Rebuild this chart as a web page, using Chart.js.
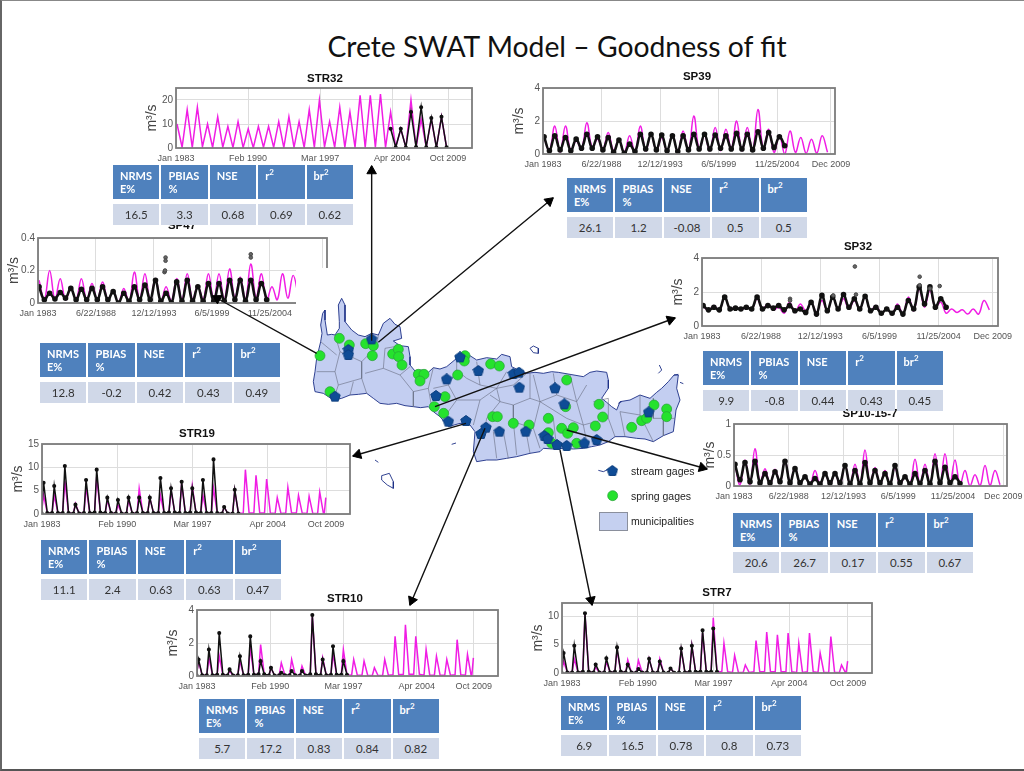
<!DOCTYPE html>
<html>
<head>
<meta charset="utf-8">
<title>Crete SWAT Model - Goodness of fit</title>
<script src="https://cdn.jsdelivr.net/npm/chart.js@4"></script>
<style>
    html, body { margin: 0; padding: 0; background: #fff; }
    #page { position: relative; width: 1024px; height: 771px; overflow: hidden; background: #fff; }
    #page canvas { position: absolute; }
    #frame { position: absolute; left: 0; top: 0; width: 1022px; height: 768px; border-left: 2px solid #666; border-top: 1px solid #888; border-bottom: 2px solid #555; z-index: 6; }
    #heading { position: absolute; left: 257px; width: 600px; top: 29px; text-align: center; font: 28.3px Lato, sans-serif; color: #111; }
    .plot-title { position: absolute; width: 120px; margin-left: -60px; text-align: center; font: bold 11.5px "Liberation Sans", sans-serif; color: #111; z-index: 1; line-height: 14px; }
    .stats { position: absolute; display: grid; grid-template-columns: repeat(5, 46.4px); grid-template-rows: 34px 21px; gap: 5px 2px; z-index: 3; font-family: Lato, sans-serif; }
    .stats div { box-sizing: border-box; background: #d0d8e8; color: #333; font-size: 11.5px; text-align: center; line-height: 21px; }
    .stats div.head { background: #4f81bd; color: #fff; font-weight: bold; font-size: 11px; text-align: left; line-height: 13px; padding: 4px 0 0 7px; }
    .stats sup { font-size: 8px; line-height: 0; }
    #patch { position: absolute; left: 296px; top: 268px; width: 40px; height: 50px; background: #fff; z-index: 2; }
    .legend-text { position: absolute; left: 631px; font: 10.5px "Liberation Sans", sans-serif; color: #222; z-index: 5; }
    #swatch { position: absolute; left: 599px; top: 512px; width: 27px; height: 17px; background: #c5d0f0; border: 1px solid #8a8f9c; z-index: 5; }
</style>
</head>
<body>
<div id="page">
    <div id="frame"></div>
    <div id="heading">Crete SWAT Model – Goodness of fit</div>
    <div id="patch"></div>
    <div class="legend-text" style="top:465px">stream gages</div>
    <div class="legend-text" style="top:490px">spring gages</div>
    <div class="legend-text" style="top:515px">municipalities</div>
    <div id="swatch"></div>
</div>
<script>
const firstYear = 1983;
const statHeaders = ['NRMS<br>E%', 'PBIAS<br>%', 'NSE', 'r<sup>2</sup>', 'br<sup>2</sup>'];

// tick positions in decimal years
const streamTickYears = [1983, 1990.08, 1997.17, 2004.25, 2009.75];
const streamTickLabels = ['Jan 1983', 'Feb 1990', 'Mar 1997', 'Apr 2004', 'Oct 2009'];
const springTickYears = [1983, 1988.47, 1993.95, 1999.43, 2004.9, 2009.92];
const springTickLabels = ['Jan 1983', '6/22/1988', '12/12/1993', '6/5/1999', '11/25/2004', 'Dec 2009'];
const sp47TickLabels = ['Jan 1983', '6/22/1988', '12/12/1993', '6/5/1999', '11/25/2004', ''];

// STR32
const str32SimPeak = [10, 16, 17, 10, 13, 9, 11, 8, 9, 9, 11, 13, 11, 16, 20, 11, 17, 15, 22, 22, 22.5, 15, 8, 20, 12, 12, 13];
const str32SimLow = [0.3, 0.2, 0.5, 0.2, 0.3, 0.2, 0.2, 0.1, 0.3, 0.3, 0.2, 0.3, 0.2, 0.3, 0.5, 0.3, 0.3, 0.3, 0.2, 0.3, 0.3, 0.3, 0.2, 0.4, 0.3, 0.2, 0.2];
const str32ObsPeak = [8, 8, 15, 17, 12.5, 13];
const str32ObsLow = [0.3, 0.2, 0.4, 0.3, 0.2, 0.3];
const str32Stats = [16.5, 3.3, 0.68, 0.69, 0.62];

// SP39
const sp39SimPeak = [1.0, 1.7, 1.7, 0.8, 1.9, 0.9, 1.3, 0.9, 1.1, 1.7, 1.2, 1.0, 1.2, 1.4, 2.3, 1.1, 1.6, 1.5, 2.0, 1.6, 2.7, 1.5, 1.1, 1.4, 1.0, 0.9, 1.1];
const sp39SimLow = [0.2, 0.1, 0.2, 0.3, 0.4, 0.3, 0.2, 0.1, 0.1, 0.2, 0.2, 0.2, 0.1, 0.2, 0.3, 0.2, 0.2, 0.3, 0.2, 0.2, 0.3, 0.1, 0.0, 0.1, 0.05, 0.05, 0.1];
const sp39ObsPeak = [1.05, 1.1, 1.0, 0.9, 1.2, 1.05, 1.0, 0.85, 0.6, 1.2, 1.2, 1.15, 1.1, 1.1, 1.2, 1.2, 1.15, 1.1, 1.25, 1.2, 1.35, 1.3, 1.05];
const sp39ObsLow = [0.2, 0.25, 0.2, 0.35, 0.35, 0.25, 0.1, 0.05, 0.15, 0.3, 0.25, 0.2, 0.15, 0.25, 0.3, 0.3, 0.35, 0.3, 0.3, 0.25, 0.35, 0.4, 0.5];
const sp39Stats = [26.1, 1.2, -0.08, 0.5, 0.5];

// SP47
const sp47SimPeak = [0.14, 0.2, 0.15, 0.09, 0.15, 0.12, 0.13, 0.07, 0.09, 0.19, 0.18, 0.15, 0.1, 0.15, 0.18, 0.11, 0.18, 0.18, 0.21, 0.16, 0.24, 0.18, 0.1, 0.18, 0.17];
const sp47SimLow = [0.02, 0.02, 0.02, 0.02, 0.02, 0.02, 0.02, 0.0, 0.0, 0.02, 0.02, 0.01, 0.01, 0.02, 0.02, 0.02, 0.02, 0.02, 0.03, 0.02, 0.03, 0.02, 0.02, 0.03, 0.04];
const sp47ObsPeak = [0.1, 0.06, 0.065, 0.09, 0.085, 0.09, 0.1, 0.07, 0.06, 0.1, 0.11, 0.14, 0.06, 0.13, 0.14, 0.1, 0.12, 0.12, 0.14, 0.14, 0.14, 0.12];
const sp47ObsLow = [0.02, 0.025, 0.03, 0.02, 0.02, 0.02, 0.02, 0.0, 0.01, 0.02, 0.02, 0.01, 0.0, 0.01, 0.01, 0.01, 0.01, 0.01, 0.02, 0.01, 0.02, 0.02];
const sp47Outliers = [[1995.05, 0.28], [1995.05, 0.26], [1994.95, 0.19], [1995.0, 0.2], [2003.1, 0.3], [2003.1, 0.28]];
const sp47Stats = [12.8, -0.2, 0.42, 0.43, 0.49];

// SP32
const sp32SimPeak = [1.2, 1.2, 1.7, 1.1, 1.1, 1.6, 1.3, 1.1, 1.4, 1.3, 1.4, 1.5, 1.7, 1.6, 1.5, 1.7, 1.2, 1.0, 1.3, 1.7, 2.2, 2.1, 1.4, 1.0, 0.95, 1.0, 1.5];
const sp32SimLow = [0.9, 0.9, 1.0, 0.95, 1.0, 1.0, 0.95, 0.75, 0.8, 0.9, 0.8, 0.9, 1.0, 1.0, 1.0, 0.9, 0.75, 0.7, 0.7, 0.9, 1.1, 1.1, 0.75, 0.8, 0.7, 0.7, 0.95];
const sp32ObsPeak = [1.2, 1.1, 1.7, 1.05, 1.1, 1.7, 1.2, 1.2, 1.2, 1.0, 1.4, 1.8, 1.7, 1.85, 1.6, 1.75, 1.1, 1.0, 1.1, 1.5, 2.3, 2.3, 1.6];
const sp32ObsLow = [0.95, 0.95, 1.0, 1.0, 1.0, 1.0, 1.05, 0.95, 0.9, 0.8, 0.7, 0.9, 1.0, 1.1, 1.0, 0.9, 0.75, 0.75, 0.7, 1.0, 1.3, 1.1, 1.1];
const sp32Outliers = [[1997.15, 3.5], [2003.15, 2.9], [2003.15, 2.4], [2005, 2.35], [2004.1, 2.2], [1991.15, 1.6], [1991.15, 1.5], [1995.15, 1.8], [1997.25, 1.85]];
const sp32Stats = [9.9, -0.8, 0.44, 0.43, 0.45];

// SP10-15-7
const sp10SimPeak = [0.35, 0.42, 0.6, 0.28, 0.27, 0.42, 0.3, 0.15, 0.25, 0.2, 0.2, 0.35, 0.35, 0.58, 0.3, 0.25, 0.3, 0.15, 0.43, 0.35, 0.52, 0.52, 0.42, 0.25, 0.18, 0.33, 0.25];
const sp10SimLow = [0.02, 0.03, 0.05, 0.02, 0.05, 0.06, 0.04, 0.02, 0.03, 0.03, 0.02, 0.02, 0.02, 0.03, 0.02, 0.03, 0.02, 0.02, 0.02, 0.02, 0.03, 0.04, 0.02, 0.0, 0.0, 0.01, 0.02];
const sp10ObsPeak = [0.35, 0.38, 0.4, 0.2, 0.23, 0.4, 0.28, 0.15, 0.12, 0.2, 0.2, 0.33, 0.25, 0.38, 0.25, 0.2, 0.33, 0.15, 0.2, 0.25, 0.4, 0.3, 0.15];
const sp10ObsLow = [0.1, 0.07, 0.05, 0.05, 0.07, 0.05, 0.05, 0.03, 0.03, 0.05, 0.05, 0.03, 0.03, 0.05, 0.05, 0.03, 0.05, 0.03, 0.04, 0.03, 0.05, 0.05, 0.04];
const sp10Stats = [20.6, 26.7, 0.17, 0.55, 0.67];

// STR19
const str19SimPeak = [4, 4, 7, 2.2, 5.8, 8, 3, 2, 3, 5.5, 3.5, 4, 5, 6.5, 6, 4, 5.5, 1.5, 5, 9.5, 8.3, 7.5, 3.5, 5.7, 4, 3.8, 4.7];
const str19SimLow = [0.2, 0.2, 0.2, 0.1, 0.2, 0.3, 0.2, 0.1, 0.1, 0.2, 0.2, 0.2, 0.3, 0.2, 0.3, 0.2, 0.2, 0.1, 0.1, 0.2, 0.2, 0.2, 0.1, 0.2, 0.2, 0.1, 0.1];
const str19ObsPeak = [6.7, 6, 10.3, 2, 7.3, 9.5, 3.5, 3, 3.5, 3.5, 3.5, 7.7, 5.5, 6.9, 5.5, 7.3, 11.7, 1.5, 5.2];
const str19ObsLow = [0.2, 0.2, 0.2, 0.1, 0.2, 0.3, 0.2, 0.1, 0.1, 0.2, 0.2, 0.2, 0.3, 0.2, 0.3, 0.2, 0.2, 0.1, 0.1];
const str19Stats = [11.1, 2.4, 0.63, 0.63, 0.47];

// STR10
const str10SimPeak = [0.9, 1.1, 1.2, 0.3, 0.9, 1.7, 1.9, 0.5, 0.8, 1.0, 0.6, 3.6, 1.1, 1.3, 1.6, 1.0, 0.9, 0.5, 1.0, 2.4, 3.1, 2.4, 1.6, 1.2, 1.0, 2.2, 1.3];
const str10SimLow = [0.05, 0.05, 0.08, 0.03, 0.05, 0.08, 0.1, 0.03, 0.05, 0.05, 0.03, 0.1, 0.05, 0.08, 0.08, 0.05, 0.05, 0.03, 0.05, 0.08, 0.1, 0.1, 0.05, 0.05, 0.05, 0.08, 0.05];
const str10ObsPeak = [1, 1.6, 2.6, 0.4, 1.2, 2.4, 0.9, 0.5, 0.2, 0.3, 0.3, 3.7, 1, 1.8, 0.9];
const str10ObsLow = [0.05, 0.05, 0.08, 0.03, 0.05, 0.08, 0.1, 0.03, 0.05, 0.05, 0.03, 0.1, 0.05, 0.08, 0.08];
const str10Stats = [5.7, 17.2, 0.83, 0.84, 0.82];

// STR7
const str7SimPeak = [2, 2.5, 10.3, 1, 2, 4, 2.3, 2.2, 2.5, 2.5, 0.8, 4, 4.8, 7, 9.7, 5.2, 3.1, 1.4, 5.7, 7.2, 6.7, 7, 5.2, 7, 3.5, 6.4, 1.4];
const str7SimLow = [0.1, 0.1, 0.2, 0.1, 0.1, 0.2, 0.1, 0.1, 0.1, 0.1, 0.05, 0.1, 0.2, 0.2, 0.2, 0.2, 0.1, 0.1, 0.2, 0.2, 0.2, 0.2, 0.1, 0.2, 0.1, 0.1, 0.1];
const str7ObsPeak = [3.5, 4.8, 10.5, 1.5, 2.6, 4.5, 1.5, 0.7, 2.5, 2, 0.8, 4.3, 4.8, 7.5, 7.8];
const str7ObsLow = [0.1, 0.1, 0.2, 0.1, 0.1, 0.2, 0.1, 0.1, 0.1, 0.1, 0.05, 0.1, 0.2, 0.2, 0.2];
const str7Stats = [6.9, 16.5, 0.78, 0.8, 0.73];

// map, in map units (3 units = 1 screen pixel), pairs of x,y
const coast = [45,260, 50,220, 56,195, 62,170, 66,145, 62,120, 68,85, 75,75, 75,105, 82,150, 95,148, 105,150, 118,130, 118,110, 115,60, 125,40, 135,60, 135,110, 155,135, 175,150, 195,155, 215,145, 235,150, 250,115, 270,100, 285,118, 300,125, 305,160, 280,168, 300,182, 325,185, 330,215, 330,240, 345,258, 365,255, 385,262, 400,248, 420,252, 440,245, 470,220, 480,205, 510,212, 530,225, 560,218, 590,222, 605,208, 630,215, 635,245, 655,255, 680,265, 705,262, 730,265, 755,260, 775,262, 810,268, 850,275, 870,262, 890,258, 920,262, 925,285, 925,310, 905,340, 920,352, 935,365, 950,375, 960,350, 990,345, 1020,330, 1050,340, 1070,322, 1085,310, 1105,290, 1122,270, 1135,270, 1130,310, 1140,345, 1128,375, 1125,400, 1120,440, 1090,452, 1060,470, 1035,462, 1010,460, 975,455, 945,455, 925,470, 900,480, 875,485, 850,490, 820,492, 790,490, 760,492, 730,490, 720,500, 690,505, 650,515, 620,520, 590,525, 560,525, 530,530, 520,500, 525,440, 510,420, 480,415, 445,425, 420,395, 400,380, 385,365, 362,368, 340,365, 315,362, 290,355, 265,358, 240,355, 220,340, 200,325, 175,328, 150,330, 125,340, 100,345, 70,325, 45,320, 40,290, 45,260];
const muniLines = [
    [105,150, 120,200, 105,260, 115,300, 100,345], [62,170, 110,210], [50,260, 105,260], [115,300, 185,280, 200,325],
    [120,200, 185,230, 185,280], [185,230, 230,185, 235,150], [195,265, 250,250, 300,270, 330,245], [300,270, 340,320, 340,365],
    [340,320, 385,310, 400,248], [385,310, 395,365], [400,310, 445,300, 470,255, 470,222], [445,300, 470,345, 430,400],
    [470,345, 540,345, 590,310, 640,300], [540,345, 520,420], [590,310, 600,350, 560,400, 555,430], [600,350, 640,360, 640,410],
    [640,300, 680,265], [640,360, 690,340, 690,265], [690,340, 720,350, 770,330], [720,350, 700,430, 720,490], [770,330, 760,265],
    [770,330, 830,350, 810,268], [830,350, 850,420, 860,470], [850,420, 925,400, 925,340], [640,410, 650,510], [580,440, 590,520],
    [700,430, 640,410], [925,400, 945,455], [960,380, 975,455], [960,380, 1020,390, 1020,330], [1020,390, 1060,470], [1060,400, 1125,400],
    [1060,340, 1060,400], [530,230, 540,300, 590,310], [720,350, 800,400], [800,400, 850,420],
    [250,250, 255,190, 300,182], [540,300, 500,280, 470,255], [620,260, 590,310], [700,270, 720,350], [610,440, 625,520], [680,450, 690,505],
    [760,400, 770,490], [600,350, 570,330], [1090,400, 1090,452], [150,330, 160,290], [860,300, 830,350], [880,350, 925,340]
];
const islets = [
    [690,190, 700,183, 715,190, 715,205, 700,203, 690,190], [245,572, 268,565, 280,590, 280,610, 262,600, 245,585, 245,572], [225,525, 235,532],
    [895,556, 910,560, 925,553], [1078,240, 1085,255, 1075,265], [1140,292, 1150,296], [955,355, 965,350], [455,478, 468,474], [1122,270, 1135,268]
];
const springGages = [118,160, 148,180, 60,212, 197,176, 220,182, 217,212, 278,207, 295,193, 296,215, 306,240, 355,268, 372,268, 360,288, 90,320, 495,212, 493,228, 473,270, 572,237, 598,243, 435,335, 403,365, 431,385, 578,395, 592,395, 640,415, 687,420, 745,400, 745,443, 785,430, 803,445, 820,428, 830,475, 755,475, 800,285, 797,365, 897,358, 908,396, 886,423, 995,427, 1025,407, 1040,400, 1062,360, 1100,372, 1100,395];
const streamGages = [145,195, 145,210, 105,335, 215,163, 480,217, 535,258, 440,283, 408,333, 640,267, 657,263, 658,308, 765,310, 793,358, 445,410, 498,408, 558,428, 543,447, 598,440, 677,440, 733,453, 743,462, 771,480, 800,483, 853,475, 890,465, 1046,382];
const legendSpring = [938, 632];
const legendStream = [937, 558];
// from gage to the tip of the arrow at the plot it belongs to
const arrows = [
    [213,165, 215,-357], [235,172, 759,-261], [50,205, -261,33], [405,365, 1125,99],
    [498,415, 159,513], [800,435, 1221,552], [555,430, 330,960], [780,495, 876,960]
];

const stations = [
    { name: 'STR32', box: [176, 88, 296, 60], title: [325, 71], table: [113, 165], yMax: 25, yTicks: [0, 10, 20], xMax: 2012.1, sim: [str32SimPeak, str32SimLow], obs: [str32ObsPeak, str32ObsLow], obsFrom: 2004, stats: str32Stats, narrow: false },
    { name: 'SP39', box: [543, 88, 292, 66], title: [697, 69], table: [567, 178], yMax: 4, yTicks: [0, 2, 4], xMax: 2010.3, sim: [sp39SimPeak, sp39SimLow], obs: [sp39ObsPeak, sp39ObsLow], obsFrom: 1983, stats: sp39Stats, spring: true },
    { name: 'SP47', box: [38, 238, 289, 65], title: [182, 218], table: [40, 343], yMax: 0.4, yTicks: [0, 0.2, 0.4], xMax: 2010.3, sim: [sp47SimPeak, sp47SimLow], obs: [sp47ObsPeak, sp47ObsLow], obsFrom: 1983, outliers: sp47Outliers, stats: sp47Stats, spring: true, labels: sp47TickLabels },
    { name: 'SP32', box: [702, 258, 296, 68], title: [858, 239], table: [703, 351], yMax: 4, yTicks: [0, 2, 4], xMax: 2010.4, sim: [sp32SimPeak, sp32SimLow], obs: [sp32ObsPeak, sp32ObsLow], obsFrom: 1983, outliers: sp32Outliers, stats: sp32Stats, spring: true },
    { name: 'SP10-15-7', box: [734, 424, 273, 62], title: [870, 406], table: [733, 513], yMax: 1, yTicks: [0, 0.5, 1], xMax: 2010.3, sim: [sp10SimPeak, sp10SimLow], obs: [sp10ObsPeak, sp10ObsLow], obsFrom: 1983, stats: sp10Stats, spring: true },
    { name: 'STR19', box: [42, 444, 308, 70], title: [197, 426], table: [41, 540], yMax: 15, yTicks: [0, 5, 10, 15], xMax: 2012, sim: [str19SimPeak, str19SimLow], obs: [str19ObsPeak, str19ObsLow], obsFrom: 1983, stats: str19Stats, narrow: true, tail: 3.5 },
    { name: 'STR10', box: [197, 610, 301, 66], title: [345, 591], table: [199, 699], yMax: 4, yTicks: [0, 2, 4], xMax: 2012.1, sim: [str10SimPeak, str10SimLow], obs: [str10ObsPeak, str10ObsLow], obsFrom: 1983, stats: str10Stats, narrow: true, tail: 1.1 },
    { name: 'STR7', box: [562, 603, 310, 70], title: [717, 585], table: [561, 696], yMax: 12.3, yTicks: [0, 5, 10], xMax: 2012, sim: [str7SimPeak, str7SimLow], obs: [str7ObsPeak, str7ObsLow], obsFrom: 1983, stats: str7Stats, narrow: true, tail: 2.1 }
];

const page = document.getElementById('page');
const axisFont = '"Liberation Sans", sans-serif';

function yearSeries(peaks, lows, from, narrow) {
    const points = [];
    peaks.forEach(function (peak, i) {
        const year = from + i;
        if (narrow) {
            points.push({ x: year - 0.05, y: lows[i] });
            points.push({ x: year + 0.15, y: peak });
            points.push({ x: year + 0.5, y: lows[i] });
        } else {
            points.push({ x: year + 0.1, y: peak });
            points.push({ x: year + 0.6, y: lows[i] });
        }
    });
    return points;
}

// draws the box around the plot
const plotFrame = {
    id: 'plotFrame',
    afterDatasetsDraw(chart) {
        const a = chart.chartArea;
        const ctx = chart.ctx;
        ctx.save();
        ctx.strokeStyle = '#7c7c7c';
        ctx.lineWidth = 1.8;
        ctx.strokeRect(a.left, a.top, a.right - a.left, a.bottom - a.top);
        ctx.restore();
    }
};

function noPadding(scale) {
    scale.paddingTop = 0;
    scale.paddingBottom = 0;
    scale.paddingLeft = 0;
    scale.paddingRight = 0;
}

function addStation(st) {
    const left = 32, top = 8, right = 34, bottom = 20;
    const canvas = document.createElement('canvas');
    canvas.width = left + st.box[2] + right;
    canvas.height = top + st.box[3] + bottom;
    canvas.style.left = (st.box[0] - left) + 'px';
    canvas.style.top = (st.box[1] - top) + 'px';
    canvas.style.zIndex = 1;
    page.appendChild(canvas);

    const xTicks = st.spring ? springTickYears : streamTickYears;
    const xLabels = st.labels || (st.spring ? springTickLabels : streamTickLabels);

    const sim = yearSeries(st.sim[0], st.sim[1], firstYear, st.narrow);
    if (st.tail) {
        sim.push({ x: 2009.58, y: 0.1 });
        sim.push({ x: 2009.72, y: st.tail });
    }
    const datasets = [{
        data: yearSeries(st.obs[0], st.obs[1], st.obsFrom, st.narrow),
        borderColor: '#111',
        backgroundColor: '#111',
        borderWidth: st.spring ? 2.6 : 1.5,
        pointRadius: st.spring ? 1.5 : 1.3,
        tension: st.spring ? 0.4 : 0,
        showLine: true,
        order: 1
    }, {
        data: sim,
        borderColor: '#f01de4',
        borderWidth: 1.5,
        pointRadius: 0,
        tension: st.spring ? 0.4 : 0,
        showLine: true,
        order: 3
    }];
    if (st.outliers) {
        datasets.push({
            data: st.outliers.map(p => ({ x: p[0], y: p[1] })),
            backgroundColor: '#666',
            borderColor: '#444',
            pointRadius: 1.8,
            showLine: false,
            order: 0
        });
    }

    new Chart(canvas, {
        type: 'scatter',
        data: { datasets: datasets },
        options: {
            responsive: false,
            animation: false,
            events: [],
            layout: { autoPadding: false, padding: { top: top, right: right, left: 0, bottom: 0 } },
            plugins: { legend: { display: false }, tooltip: { enabled: false } },
            scales: {
                x: {
                    type: 'linear',
                    min: firstYear,
                    max: st.xMax,
                    afterFit(scale) { scale.height = bottom; noPadding(scale); },
                    afterBuildTicks(scale) { scale.ticks = xTicks.map(v => ({ value: v })); },
                    grid: { color: '#ddd', lineWidth: 1, drawTicks: false },
                    border: { display: false },
                    ticks: {
                        color: '#555',
                        font: { family: axisFont, size: 9 },
                        padding: 5,
                        maxRotation: 0,
                        autoSkip: false,
                        callback: v => xLabels[xTicks.indexOf(v)]
                    }
                },
                y: {
                    min: 0,
                    max: st.yMax,
                    afterFit(scale) { scale.width = left; noPadding(scale); },
                    afterBuildTicks(scale) { scale.ticks = st.yTicks.map(v => ({ value: v })); },
                    grid: { color: '#ddd', lineWidth: 1, drawTicks: false },
                    border: { display: false },
                    title: { display: true, text: 'm³/s', color: '#444', padding: 0, font: { family: axisFont, size: 14 } },
                    ticks: {
                        color: '#555',
                        font: { family: axisFont, size: 10 },
                        padding: 3,
                        autoSkip: false,
                        callback: v => v
                    }
                }
            }
        },
        plugins: [plotFrame]
    });

    const title = document.createElement('div');
    title.className = 'plot-title';
    title.textContent = st.name;
    title.style.left = st.title[0] + 'px';
    title.style.top = st.title[1] + 'px';
    page.appendChild(title);

    const table = document.createElement('div');
    table.className = 'stats';
    table.style.left = st.table[0] + 'px';
    table.style.top = st.table[1] + 'px';
    table.innerHTML = statHeaders.map(h => '<div class="head">' + h + '</div>').join('') +
        st.stats.map(v => '<div>' + v + '</div>').join('');
    page.appendChild(table);
}

stations.forEach(addStation);

function pairs(flat) {
    const out = [];
    for (let i = 0; i < flat.length; i += 2) {
        out.push({ x: flat[i], y: flat[i + 1] });
    }
    return out;
}

function joined(lines) {
    const out = [];
    lines.forEach(function (line) {
        out.push(...pairs(line));
        out.push({ x: NaN, y: NaN });
    });
    return out;
}

// pentagon marker for the stream gages
function pentagon(size, fill) {
    const c = document.createElement('canvas');
    c.width = size;
    c.height = size;
    const g = c.getContext('2d');
    const r = size / 2 - 0.5;
    g.beginPath();
    for (let k = 0; k < 5; k++) {
        const a = -Math.PI / 2 + k * 2 * Math.PI / 5;
        g.lineTo(size / 2 + r * Math.cos(a), size / 2 + r * Math.sin(a));
    }
    g.closePath();
    g.fillStyle = fill;
    g.fill();
    g.strokeStyle = '#0d3f7f';
    g.stroke();
    return c;
}

// the triangle marker sits on its centre, so pull it back from the tip
const arrowHeads = arrows.map(function (a) {
    const len = Math.hypot(a[2] - a[0], a[3] - a[1]);
    return { x: a[2] - (a[2] - a[0]) / len * 15, y: a[3] - (a[3] - a[1]) / len * 15 };
});
// triangle points up at rotation 0, y axis runs downward on the page
const arrowAngles = arrows.map(a => Math.atan2(a[2] - a[0], a[1] - a[3]) * 180 / Math.PI);

const mapCanvas = document.createElement('canvas');
mapCanvas.width = 1024;
mapCanvas.height = 771;
mapCanvas.style.left = '0px';
mapCanvas.style.top = '0px';
mapCanvas.style.zIndex = 4;
page.appendChild(mapCanvas);

new Chart(mapCanvas, {
    type: 'scatter',
    data: {
        datasets: [
            { data: arrowHeads, pointStyle: 'triangle', pointRadius: 5.5, pointRotation: arrowAngles, backgroundColor: '#000', borderColor: '#000', showLine: false, order: 0 },
            { data: joined(arrows), showLine: true, borderColor: '#111', borderWidth: 1.4, pointRadius: 0, spanGaps: false, order: 1 },
            { data: pairs(streamGages.concat(legendStream)), pointStyle: pentagon(12, '#0f4c96'), showLine: false, order: 2 },
            { data: pairs(springGages.concat(legendSpring)), pointStyle: 'circle', pointRadius: 5, backgroundColor: '#25e22d', borderColor: '#2aa03a', borderWidth: 0.7, showLine: false, order: 3 },
            { data: joined(muniLines), showLine: true, borderColor: '#666c80', borderWidth: 0.6, pointRadius: 0, spanGaps: false, order: 4 },
            { data: joined(islets), showLine: true, borderColor: '#1c2f86', borderWidth: 0.9, pointRadius: 0, spanGaps: false, order: 5 },
            { data: pairs(coast), showLine: true, fill: 'shape', backgroundColor: '#c3cef1', borderColor: '#1c2f86', borderWidth: 0.9, pointRadius: 0, order: 6 }
        ]
    },
    options: {
        responsive: false,
        animation: false,
        events: [],
        layout: { padding: 0, autoPadding: false },
        plugins: { legend: { display: false }, tooltip: { enabled: false } },
        scales: {
            x: { type: 'linear', display: false, min: -900, max: 2172 },
            y: { type: 'linear', display: false, min: -855, max: 1458, reverse: true }
        }
    }
});
</script>
</body>
</html>
